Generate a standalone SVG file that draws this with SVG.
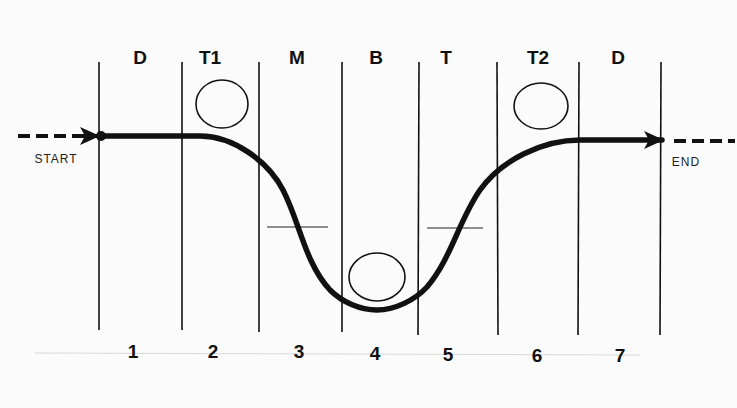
<svg xmlns="http://www.w3.org/2000/svg" width="737" height="408" viewBox="0 0 737 408">
<defs>
<style>
.col{stroke:#111;stroke-width:1.6;fill:none}
.faint{stroke:#d8d8d8;stroke-width:1;fill:none}
.lbl{font-family:"Liberation Sans",Arial,sans-serif;font-weight:bold;font-size:19px;fill:#111;text-anchor:middle}
.sm{font-family:"Liberation Sans",Arial,sans-serif;font-size:12px;letter-spacing:1px;fill:#222;text-anchor:middle}
.circ{stroke:#111;stroke-width:1.6;fill:none}
.tick{stroke:#222;stroke-width:1.2}
.dash{stroke:#111;stroke-width:4;stroke-dasharray:12,6;fill:none}
</style>
<marker id="ah" viewBox="0 0 20 18" refX="18" refY="9" markerWidth="20" markerHeight="18" orient="auto" markerUnits="userSpaceOnUse">
<path d="M0,0 L20,9 L0,18 L5,9 Z" fill="#111"/>
</marker>
</defs>
<rect width="737" height="408" fill="#fbfbfb"/>
<line class="faint" x1="35" y1="353" x2="640" y2="355"/>
<g id="columns">
<line class="col" x1="99" y1="62" x2="99" y2="330"/>
<line class="col" x1="182" y1="62" x2="182" y2="330"/>
<line class="col" x1="259" y1="62" x2="259" y2="332"/>
<line class="col" x1="342" y1="62" x2="342" y2="332"/>
<line class="col" x1="419" y1="62" x2="418" y2="335"/>
<line class="col" x1="497" y1="62" x2="498" y2="335"/>
<line class="col" x1="579" y1="62" x2="578" y2="335"/>
<line class="col" x1="661" y1="62" x2="660" y2="335"/>
</g>
<g id="top-labels">
<text class="lbl" x="140" y="64">D</text>
<text class="lbl" x="210" y="64">T1</text>
<text class="lbl" x="297" y="64">M</text>
<text class="lbl" x="376" y="64">B</text>
<text class="lbl" x="446" y="64">T</text>
<text class="lbl" x="538" y="64">T2</text>
<text class="lbl" x="618" y="64">D</text>
</g>
<g id="bottom-labels">
<text class="lbl" x="133" y="358">1</text>
<text class="lbl" x="213" y="358">2</text>
<text class="lbl" x="299" y="358">3</text>
<text class="lbl" x="375" y="360">4</text>
<text class="lbl" x="448" y="361">5</text>
<text class="lbl" x="537" y="362">6</text>
<text class="lbl" x="620" y="362">7</text>
</g>
<g id="circle-t1"><ellipse class="circ" cx="222" cy="104" rx="26" ry="24"/></g>
<g id="circle-t2"><ellipse class="circ" cx="541" cy="106" rx="27" ry="23"/></g>
<g id="circle-b"><ellipse class="circ" cx="377" cy="277" rx="28" ry="24"/></g>
<g id="ticks">
<line class="tick" x1="267" y1="227" x2="328" y2="227"/>
<line class="tick" x1="427" y1="228" x2="483" y2="228"/>
</g>
<g id="start"><text class="sm" x="56" y="163">START</text></g>
<g id="end"><text class="sm" x="686" y="166">END</text></g>
<g id="connectors">
<line class="dash" x1="18" y1="136" x2="80" y2="136"/>
<path d="M78,136 L98,136" stroke="#111" stroke-width="4" marker-end="url(#ah)"/>
<circle cx="101" cy="136" r="5" fill="#111"/>
<path d="M100,136 L200,136 C233,136 268,161 283,190 C300,223 305,263 330,290 C342,302 360,310 377,310 C395,310 415,300 427,287 C451,259 459,220 480,190 C501,160 543,140 580,140 L662,140" stroke="#111" stroke-width="5.5" fill="none" stroke-linecap="round" marker-end="url(#ah)"/>
<line class="dash" x1="674" y1="141" x2="735" y2="141"/>
</g>
</svg>
